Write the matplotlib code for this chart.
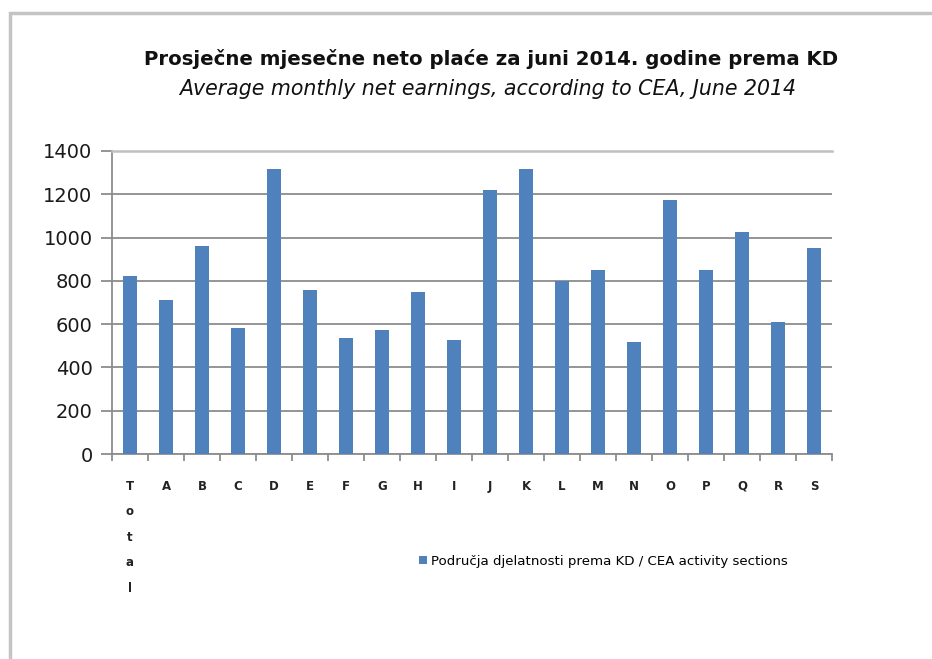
import matplotlib.pyplot as plt
from matplotlib.patches import Rectangle

categories = ["T\no\nt\na\nl", "A", "B", "C", "D", "E", "F", "G", "H", "I", "J",
              "K", "L", "M", "N", "O", "P", "Q", "R", "S"]
earnings = [823, 712, 961, 581, 1318, 758, 536, 573, 749, 527, 1221,
            1318, 798, 852, 519, 1175, 852, 1027, 610, 952]
y_ticks = [0, 200, 400, 600, 800, 1000, 1200, 1400]

title = "Prosječne mjesečne neto plaće za juni 2014. godine prema KD"
subtitle = "Average monthly net earnings, according to CEA, June 2014"
legend_label = "Područja djelatnosti prema KD / CEA activity sections"

fig = plt.figure(figsize=(9.32, 6.59), dpi=100)

# light frame around chart area (left and top only)
fig.add_artist(Rectangle((10 / 932, -0.1), 1.2, 1 - 13 / 659 + 0.1,
                         transform=fig.transFigure, fill=False,
                         edgecolor="#c4c4c4", linewidth=2.5))

ax = fig.add_axes([112 / 932, 1 - 454 / 659, 720 / 932, 303 / 659])

x = range(len(categories))
bars = ax.bar(x, earnings, width=0.39, color="#4f81bd", zorder=3,
              label=legend_label)

ax.set_xlim(-0.5, len(categories) - 0.5)
ax.set_ylim(0, 1400)
ax.set_yticks(y_ticks)
ax.yaxis.grid(True, color="#8c8c8c", linewidth=1.3, zorder=0)
ax.tick_params(axis="y", labelsize=14, length=8, width=1.3, color="#8c8c8c",
               pad=6, labelcolor="#1a1a1a")

# category boundary ticks
ax.set_xticks([i - 0.5 for i in range(len(categories) + 1)], minor=False)
ax.set_xticklabels([])
ax.tick_params(axis="x", length=5, width=1.3, color="#8c8c8c")
for i, c in enumerate(categories):
    ax.text(i, -0.085, c, transform=ax.get_xaxis_transform(), ha="center",
            va="top", fontsize=8.5, fontweight="bold", family="DejaVu Sans",
            linespacing=2.25, color="#222222")

for s in ["top", "right"]:
    ax.spines[s].set_visible(False)
for s in ["left", "bottom"]:
    ax.spines[s].set_color("#8c8c8c")
    ax.spines[s].set_linewidth(1.3)
ax.spines["top"].set_visible(True)
ax.spines["top"].set_color("#c0c0c0")
ax.spines["top"].set_linewidth(1.8)

fig.text(491 / 932, 1 - 59 / 659, title, ha="center", va="center",
         fontsize=14.2, fontweight="bold", family="DejaVu Sans", color="#111111")
fig.text(488 / 932, 1 - 89 / 659, subtitle, ha="center", va="center",
         fontsize=14.8, style="italic", family="DejaVu Sans", color="#111111")

fig.legend(handles=[bars], labels=[legend_label], loc="center left",
           bbox_to_anchor=(407 / 932, 1 - 561 / 659), frameon=False,
           prop={"family": "DejaVu Sans", "size": 9.6},
           handlelength=0.6, handleheight=0.6, handletextpad=0.3)

fig.savefig("out.png", dpi=100)
